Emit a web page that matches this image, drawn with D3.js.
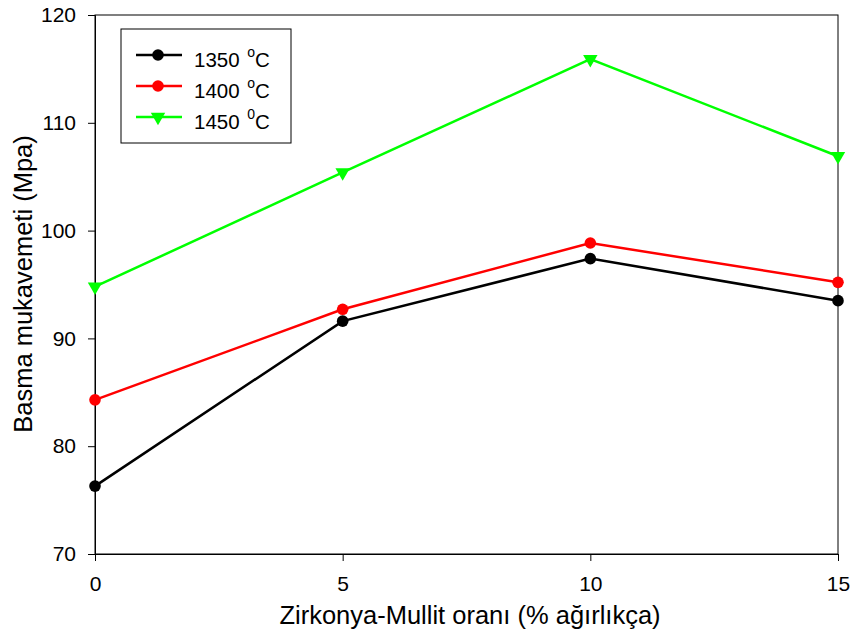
<!DOCTYPE html>
<html>
<head>
<meta charset="utf-8">
<script src="https://cdn.jsdelivr.net/npm/d3@7"></script>
<style>
  body { margin: 0; background: #fff; }
  text { font-family: "Liberation Sans", Arial, sans-serif; fill: #000; }
</style>
</head>
<body>
<svg id="chart" width="857" height="634"></svg>
<script>
// Compressive strength vs. zirconia-mullite ratio at three sintering temperatures
const ratios = [0, 5, 10, 15];
const s1350 = [76.3, 91.6, 97.4, 93.5];
const s1400 = [84.3, 92.7, 98.85, 95.2];
const s1450 = [94.8, 105.4, 115.9, 106.9];
const xTicks = [0, 5, 10, 15];
const yTicks = [70, 80, 90, 100, 110, 120];
const seriesLabels = ["1350", "1400", "1450"];
const seriesSup = ["o", "o", "0"];

const series = [
  { label: seriesLabels[0], sup: seriesSup[0], values: s1350, color: "#000000", shape: "circle" },
  { label: seriesLabels[1], sup: seriesSup[1], values: s1400, color: "#ff0000", shape: "circle" },
  { label: seriesLabels[2], sup: seriesSup[2], values: s1450, color: "#00ff00", shape: "triangle" }
];

const svg = d3.select("#chart");
const m = { left: 95, right: 838, top: 15, bottom: 554 };

const x = d3.scaleLinear().domain([0, 15]).range([m.left, m.right]);
const y = d3.scaleLinear().domain([70, 120]).range([m.bottom, m.top]);

// Frame
svg.append("rect")
  .attr("x", m.left).attr("y", m.top)
  .attr("width", m.right - m.left).attr("height", m.bottom - m.top)
  .attr("fill", "none").attr("stroke", "#000").attr("stroke-width", 1);

// Axes
const xAxis = svg.append("g")
  .attr("transform", `translate(0,${m.bottom})`)
  .call(d3.axisBottom(x).tickValues(xTicks).tickSize(7).tickPadding(15).tickFormat(d3.format("d")));
const yAxis = svg.append("g")
  .attr("transform", `translate(${m.left},0)`)
  .call(d3.axisLeft(y).tickValues(yTicks).tickSize(7).tickPadding(12).tickFormat(d3.format("d")));

[xAxis, yAxis].forEach(g => {
  g.select(".domain").attr("stroke", "#000").attr("stroke-width", 1);
  g.selectAll(".tick line").attr("stroke", "#000").attr("stroke-width", 1);
  g.selectAll(".tick text").attr("font-size", 21).attr("font-family", "Liberation Sans, Arial, sans-serif").attr("fill", "#000");
});

// Axis titles
svg.append("text")
  .attr("x", 470).attr("y", 624)
  .attr("text-anchor", "middle").attr("font-size", 25.5)
  .text("Zirkonya-Mullit oranı (% ağırlıkça)");
svg.append("text")
  .attr("transform", `translate(32,284) rotate(-90)`)
  .attr("text-anchor", "middle").attr("font-size", 25.5)
  .text("Basma mukavemeti (Mpa)");

const line = d3.line().x((d, i) => x(ratios[i])).y(d => y(d));
const tri = d3.symbol().type(d3.symbolTriangle).size(90);

function drawMarker(g, shape, color, cx, cy) {
  if (shape === "circle") {
    g.append("circle").attr("cx", cx).attr("cy", cy).attr("r", 5.8).attr("fill", color);
  } else {
    g.append("path").attr("d", tri())
      .attr("transform", `translate(${cx},${cy}) rotate(180)`)
      .attr("fill", color);
  }
}

series.forEach(s => {
  const g = svg.append("g");
  g.append("path").datum(s.values)
    .attr("d", line).attr("fill", "none")
    .attr("stroke", s.color).attr("stroke-width", 2.5);
  s.values.forEach((v, i) => drawMarker(g, s.shape, s.color, x(ratios[i]), y(v)));
});

// Legend
const lg = svg.append("g");
lg.append("rect").attr("x", 121).attr("y", 29).attr("width", 170).attr("height", 114)
  .attr("fill", "#fff").attr("stroke", "#000").attr("stroke-width", 1);
series.forEach((s, i) => {
  const ly = 55 + i * 31;
  lg.append("line").attr("x1", 136).attr("x2", 182).attr("y1", ly).attr("y2", ly)
    .attr("stroke", s.color).attr("stroke-width", 2.5);
  drawMarker(lg, s.shape, s.color, 158, ly);
  const t = lg.append("text").attr("x", 194).attr("y", ly + 12).attr("font-size", 20.5);
  t.append("tspan").text(s.label + " ");
  t.append("tspan").attr("font-size", 14).attr("dx", 2).attr("dy", -10).text(s.sup);
  t.append("tspan").attr("dy", 10).text("C");
});
</script>
</body>
</html>
